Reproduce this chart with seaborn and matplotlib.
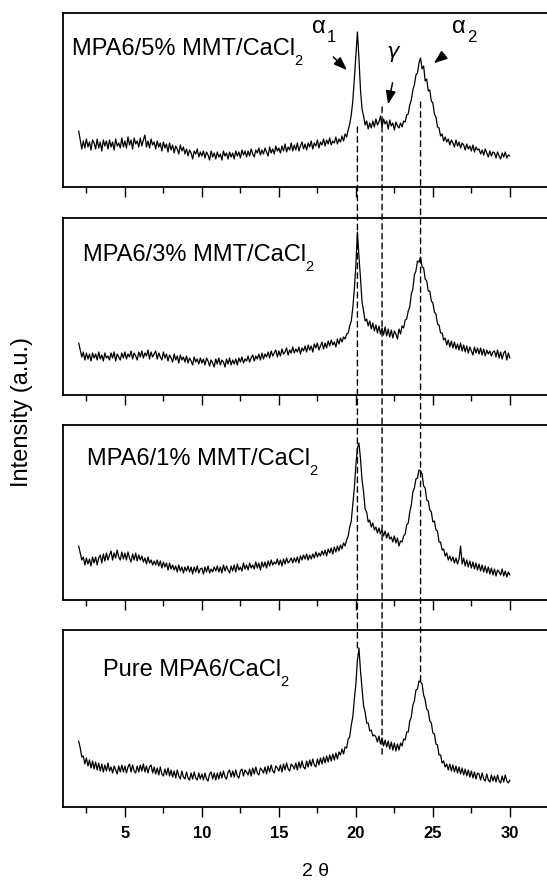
import numpy as np
import pandas as pd
import matplotlib
matplotlib.use("Agg")
import matplotlib.pyplot as plt
from matplotlib.patches import ConnectionPatch
import seaborn as sns

# ---------------- data ----------------
two_theta = np.round(np.arange(20, 301) / 10.0, 1)   # 2.0 ... 30.0 deg

label_main = ["MPA6/5% MMT/CaCl", "MPA6/3% MMT/CaCl",
              "MPA6/1% MMT/CaCl", "Pure MPA6/CaCl"]
label_sub = ["2", "2", "2", "2"]

mmt5 = [
    56, 47, 38, 46, 39, 48, 40, 45, 37, 47,
    44, 38, 48, 39, 45, 36, 47, 41, 46, 38,
    47, 40, 45, 37, 48, 41, 44, 39, 49, 40,
    46, 39, 50, 42, 47, 38, 49, 43, 46, 40,
    49, 41, 47, 52, 40, 46, 39, 48, 42, 45,
    38, 46, 40, 44, 36, 45, 39, 43, 35, 44,
    37, 42, 34, 41, 38, 33, 42, 36, 40, 33,
    38, 31, 37, 34, 28, 36, 33, 38, 30, 35,
    31, 36, 29, 35, 32, 27, 36, 30, 34, 28,
    35, 30, 33, 27, 36, 31, 34, 28, 35, 30,
    34, 28, 36, 31, 35, 29, 37, 32, 36, 30,
    36, 31, 38, 33, 30, 37, 34, 39, 32, 37,
    33, 39, 35, 31, 40, 34, 38, 33, 41, 36,
    39, 34, 41, 36, 43, 35, 40, 37, 44, 36,
    42, 37, 44, 36, 41, 45, 38, 43, 37, 44,
    40, 46, 38, 44, 41, 47, 39, 45, 42, 48,
    41, 47, 43, 49, 42, 46, 44, 50, 43, 48,
    45, 51, 46, 53, 50, 57, 63, 72, 86, 108,
    132, 155, 128, 97, 78, 71, 62, 66, 58, 64,
    59, 66, 60, 68, 62, 65, 71, 60, 68, 63,
    66, 58, 67, 61, 64, 57, 65, 61, 59, 64,
    60, 66, 65, 72, 73, 82, 87, 97, 102, 112,
    114, 124, 129, 118, 121, 106, 108, 96, 97, 86,
    84, 73, 70, 60, 59, 51, 53, 46, 50, 45,
    48, 42, 47, 44, 40, 47, 41, 45, 39, 44,
    42, 37, 43, 38, 41, 36, 42, 35, 40, 37,
    38, 33, 37, 32, 38, 34, 30, 36, 31, 35,
    34, 29, 35, 31, 28, 34, 30, 35, 29, 32,
    31]

mmt3 = [
    52, 45, 38, 43, 35, 42, 36, 41, 34, 42,
    37, 41, 35, 43, 36, 40, 34, 42, 37, 39,
    35, 42, 37, 43, 34, 41, 38, 35, 42, 37,
    43, 36, 41, 38, 44, 36, 42, 39, 35, 43,
    38, 44, 37, 42, 39, 45, 36, 43, 38, 41,
    44, 36, 42, 38, 35, 43, 37, 41, 34, 40,
    37, 33, 41, 35, 39, 32, 40, 35, 38, 33,
    39, 32, 37, 34, 30, 38, 33, 36, 31, 37,
    32, 36, 30, 37, 34, 29, 35, 32, 28, 36,
    31, 37, 30, 35, 33, 28, 36, 31, 37, 30,
    35, 31, 36, 30, 37, 33, 38, 32, 36, 34,
    39, 33, 37, 40, 34, 39, 36, 41, 35, 42,
    36, 41, 38, 43, 37, 44, 39, 42, 45, 38,
    44, 39, 46, 41, 43, 47, 40, 45, 42, 48,
    42, 46, 43, 48, 41, 47, 44, 49, 43, 50,
    45, 49, 43, 51, 47, 52, 45, 49, 53, 46,
    52, 47, 54, 49, 55, 50, 53, 48, 56, 51,
    57, 53, 58, 56, 61, 62, 69, 74, 87, 106,
    130, 163, 138, 117, 93, 84, 74, 76, 69, 74,
    66, 72, 64, 70, 62, 69, 61, 67, 60, 68,
    59, 66, 58, 65, 57, 64, 61, 56, 66, 61,
    69, 67, 75, 76, 84, 88, 101, 106, 120, 124,
    134, 133, 138, 128, 127, 116, 114, 104, 104, 94,
    92, 83, 81, 71, 70, 62, 62, 55, 57, 50,
    55, 48, 54, 47, 53, 46, 51, 45, 52, 44,
    50, 43, 49, 42, 48, 44, 40, 48, 42, 47,
    41, 47, 40, 46, 39, 45, 41, 44, 39, 43,
    44, 38, 45, 37, 43, 36, 42, 44, 35, 42,
    37]

mmt1 = [
    54, 47, 40, 43, 35, 42, 36, 41, 34, 43,
    37, 43, 35, 42, 45, 37, 46, 39, 47, 40,
    45, 49, 40, 47, 42, 50, 43, 40, 48, 41,
    47, 40, 48, 42, 38, 46, 40, 47, 39, 45,
    40, 44, 38, 42, 36, 43, 37, 40, 35, 39,
    35, 40, 34, 39, 32, 38, 33, 37, 30, 37,
    31, 35, 30, 34, 28, 35, 29, 33, 27, 33,
    29, 34, 28, 33, 26, 33, 28, 34, 27, 31,
    32, 26, 33, 28, 34, 27, 31, 28, 33, 29,
    34, 28, 33, 27, 35, 29, 34, 30, 27, 34,
    29, 35, 28, 36, 30, 33, 29, 37, 31, 35,
    30, 37, 32, 35, 31, 38, 32, 37, 30, 38,
    33, 38, 32, 39, 34, 40, 35, 38, 36, 41,
    35, 40, 34, 41, 36, 42, 37, 39, 42, 37,
    42, 38, 43, 37, 44, 40, 45, 41, 46, 40,
    45, 41, 46, 42, 48, 43, 47, 44, 49, 45,
    50, 44, 51, 47, 52, 46, 53, 48, 54, 49,
    55, 51, 57, 54, 60, 64, 73, 79, 95, 112,
    135, 152, 157, 141, 120, 108, 91, 88, 78, 80,
    73, 77, 70, 73, 67, 72, 66, 70, 64, 69,
    62, 67, 61, 63, 58, 64, 57, 62, 54, 59,
    58, 64, 66, 75, 77, 88, 95, 108, 112, 121,
    122, 130, 129, 126, 114, 112, 100, 99, 90, 88,
    78, 79, 70, 69, 58, 58, 50, 51, 44, 47,
    40, 44, 39, 43, 37, 42, 36, 41, 54, 36,
    42, 34, 40, 33, 39, 32, 38, 31, 37, 30,
    36, 29, 35, 28, 34, 27, 33, 26, 32, 25,
    31, 24, 30, 28, 25, 31, 24, 29, 23, 28,
    25]

pure = [
    66, 59, 50, 51, 43, 49, 41, 47, 39, 46,
    38, 45, 37, 44, 36, 43, 35, 42, 36, 44,
    36, 40, 34, 41, 37, 33, 41, 35, 42, 35,
    41, 34, 40, 43, 35, 42, 36, 34, 41, 35,
    42, 36, 43, 35, 41, 34, 40, 42, 34, 40,
    33, 39, 32, 40, 33, 31, 38, 32, 39, 31,
    37, 30, 36, 29, 37, 31, 28, 36, 30, 28,
    35, 29, 27, 34, 28, 35, 29, 27, 34, 28,
    33, 27, 34, 28, 26, 33, 35, 28, 34, 27,
    34, 28, 35, 29, 36, 30, 28, 35, 37, 30,
    36, 30, 37, 31, 29, 36, 38, 31, 37, 35,
    32, 38, 31, 39, 33, 40, 34, 32, 39, 37,
    34, 40, 33, 41, 35, 42, 36, 34, 41, 39,
    36, 42, 35, 43, 37, 44, 38, 36, 43, 41,
    38, 44, 37, 45, 39, 46, 40, 38, 46, 40,
    47, 41, 48, 42, 40, 48, 42, 49, 43, 50,
    44, 51, 45, 52, 46, 53, 47, 54, 48, 55,
    52, 58, 53, 60, 59, 68, 70, 82, 90, 108,
    123, 147, 159, 136, 119, 101, 95, 84, 84, 76,
    77, 71, 72, 70, 65, 71, 63, 69, 61, 67,
    60, 66, 58, 65, 57, 64, 56, 63, 57, 64,
    61, 68, 67, 75, 75, 86, 90, 102, 106, 117,
    118, 126, 125, 123, 112, 107, 98, 96, 86, 84,
    74, 73, 63, 62, 52, 52, 44, 46, 40, 43,
    37, 43, 36, 42, 35, 41, 34, 40, 33, 39,
    32, 38, 31, 37, 30, 36, 29, 35, 28, 34,
    33, 27, 34, 28, 26, 33, 27, 25, 32, 26,
    31, 25, 32, 26, 24, 31, 25, 32, 26, 24,
    27]

series = [mmt5, mmt3, mmt1, pure]

# reflection positions (dashed guides) and their end heights
peak_pos = [20.1, 21.7, 24.2]
peak_names = ["α", r"$\gamma$", "α"]
peak_subs = ["1", "", "2"]
guide_top = [60, 80, 85]       # start heights in top panel
guide_bottom = [157, 49, 124]  # end heights in bottom panel

major_ticks = [5, 10, 15, 20, 25, 30]
minor_ticks = [2.5, 7.5, 12.5, 17.5, 22.5, 27.5, 32.5]

# ---------------- style ----------------
sns.set_style("ticks")
plt.rcParams["font.family"] = ["Liberation Sans", "DejaVu Sans"]
plt.rcParams["text.color"] = "black"
plt.rcParams["xtick.color"] = "black"
plt.rcParams["axes.labelcolor"] = "black"
plt.rcParams["mathtext.fontset"] = "dejavusans"

W, H = 547, 883
fig = plt.figure(figsize=(W / 100, H / 100), dpi=100)
renderer = fig.canvas.get_renderer()

# panel boxes in pixels (top, bottom)
boxes = [(13, 187), (218, 395), (425, 600), (630, 807)]
left_px = 63.3
label_pos = [(72, 55), (83, 261), (87, 465), (103, 676)]  # left, baseline px

axes = []
for i, (top, bot) in enumerate(boxes):
    ax = fig.add_axes([left_px / W, 1 - bot / H, 0.929, (bot - top) / H])
    df = pd.DataFrame({"two_theta": two_theta, "intensity": series[i]})
    sns.lineplot(data=df, x="two_theta", y="intensity", ax=ax,
                 color="black", lw=0.9, estimator=None)
    ax.set_xlim(1, 34)
    ax.set_ylim(0, bot - top)
    ax.set_yticks([])
    ax.set_xticks(major_ticks)
    ax.set_xticks(minor_ticks, minor=True)
    ax.tick_params(axis="x", which="major", direction="out", length=7.5,
                   width=1.0, pad=6, labelsize=12, colors="black")
    ax.tick_params(axis="x", which="minor", direction="out", length=4,
                   width=1.0, colors="black")
    ax.set_xlabel("")
    ax.set_ylabel("")
    for s in ax.spines.values():
        s.set_linewidth(1.3)
        s.set_color("black")
    if i < 3:
        ax.tick_params(axis="x", labelbottom=False)
    else:
        for t in ax.get_xticklabels():
            t.set_fontweight("bold")
    lx, ly = label_pos[i]
    t = fig.text(lx / W, 1 - ly / H, label_main[i], fontsize=17,
                 ha="left", va="baseline", color="black")
    ext = t.get_window_extent(renderer=renderer)
    fig.text((ext.x1 - 1) / W, 1 - (ly + 10) / H, label_sub[i],
             fontsize=10.5, ha="left", va="baseline", color="black")
    axes.append(ax)

ax1, ax4 = axes[0], axes[-1]

# dashed guides across the panels
for xp, yt, yb in zip(peak_pos, guide_top, guide_bottom):
    con = ConnectionPatch(xyA=(xp, yt), coordsA=ax1.transData,
                          xyB=(xp, yb), coordsB=ax4.transData,
                          linestyle=(0, (4, 3)), lw=1.0, color="black")
    fig.add_artist(con)

# peak annotations in the top panel
arrow_kw = dict(arrowstyle="-|>,head_length=0.8,head_width=0.3",
                color="black", lw=1.1)
ax1.annotate("", xy=(19.55, 115), xytext=(18.4, 132), arrowprops=arrow_kw)
ax1.annotate("", xy=(22.05, 80), xytext=(22.42, 107), arrowprops=arrow_kw)
ax1.annotate("", xy=(24.92, 122), xytext=(25.9, 134), arrowprops=arrow_kw)
ax1.text(17.6, 160, peak_names[0], fontsize=17, ha="center", va="center")
ax1.text(18.4, 149, peak_subs[0], fontsize=12, ha="center", va="center")
ax1.text(22.45, 133, peak_names[1], fontsize=15, ha="center", va="center")
ax1.text(26.7, 160, peak_names[2], fontsize=17, ha="center", va="center")
ax1.text(27.5, 149, peak_subs[2], fontsize=12, ha="center", va="center")

fig.text(22 / W, 1 - 412 / H, "Intensity (a.u.)", rotation=90, fontsize=17,
         ha="center", va="center", color="black")
fig.text(316 / W, 1 - 872 / H, "2 θ", fontsize=14, ha="center", va="center",
         color="black")

fig.savefig("out.png", dpi=100)
